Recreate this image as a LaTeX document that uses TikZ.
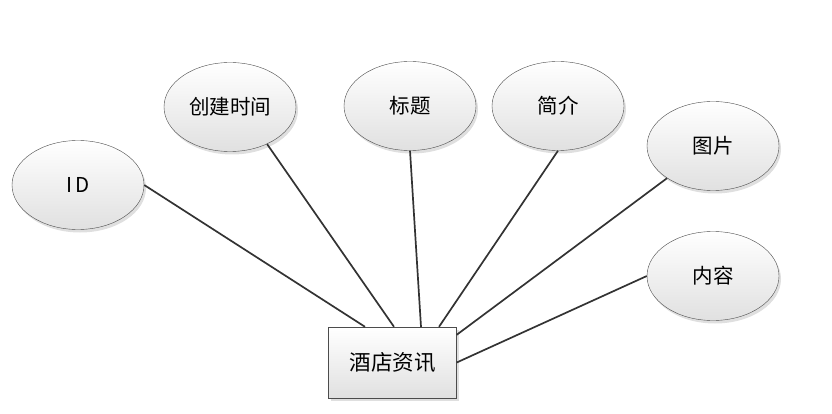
\documentclass[tikz,border=0pt]{standalone}
\usepackage{fontspec}
\setmainfont{Noto Sans CJK SC}
\usetikzlibrary{shapes.geometric,shadows}

\tikzset{
    attr/.style={ellipse, draw=black!70, thin, top color=white, bottom color=black!12,
        minimum width=132pt, minimum height=89pt, inner sep=0pt,
        drop shadow={shadow xshift=2pt, shadow yshift=-3pt, opacity=0.25},
        font=\fontsize{20.5}{24}\selectfont},
    entity/.style={rectangle, draw=black!70, thin, top color=white, bottom color=black!12,
        minimum width=128pt, minimum height=71pt, inner sep=0pt,
        drop shadow={shadow xshift=2pt, shadow yshift=-3pt, opacity=0.25},
        font=\fontsize{21.5}{25}\selectfont},
    link/.style={draw=black!80, line width=1.7pt}
}

\begin{document}
\begin{tikzpicture}[x=1pt, y=-1pt]

    \useasboundingbox (0,0) rectangle (832,414);

    % Entity
    \node[entity] (info) at (392.5,362.5) {酒店资讯};

    % Attributes
    \node[attr] (id) at (78,185) {I\,D};
    \node[attr] (ctime) at (230,107) {创建时间};
    \node[attr] (title) at (410,106) {标题};
    \node[attr] (brief) at (558,106) {简介};
    \node[attr] (pic) at (713,146) {图片};
    \node[attr] (body) at (713,276) {内容};

    % Links
    \draw[link] (id.east) -- ([xshift=-27.5pt]info.north);
    \draw[link] (ctime.-45) -- ([xshift=1.5pt]info.north);
    \draw[link] (title.south) -- ([xshift=28.5pt]info.north);
    \draw[link] (brief.south) -- ([xshift=46.5pt]info.north);
    \draw[link] (pic.215) -- ([yshift=-8pt]info.north east);
    \draw[link] (body.west) -- (info.east);

\end{tikzpicture}
\end{document}
